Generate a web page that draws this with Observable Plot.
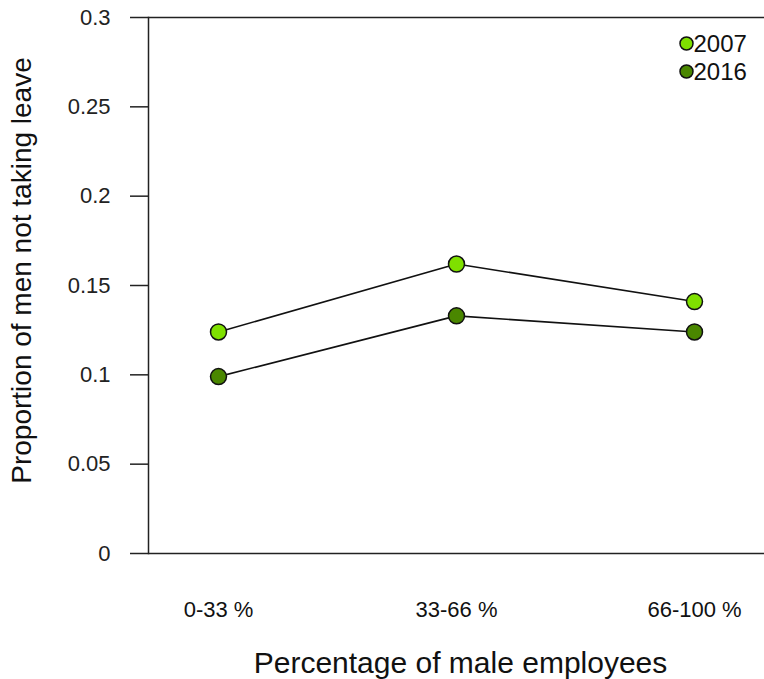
<!DOCTYPE html>
<html>
<head>
<meta charset="utf-8">
<script src="https://cdn.jsdelivr.net/npm/d3@7"></script>
<script src="https://cdn.jsdelivr.net/npm/@observablehq/plot@0.6"></script>
<style>
  html, body { margin: 0; padding: 0; background: #fff; }
  #chart svg { display: block; font-family: "Liberation Sans", Arial, sans-serif; }
</style>
</head>
<body>
<div id="chart"></div>
<script>
const categories = ["0-33 %", "33-66 %", "66-100 %"];
const years = ["2007", "2016"];
const values2007 = [0.124, 0.162, 0.141];
const values2016 = [0.099, 0.133, 0.124];
const yTicks = [0, 0.05, 0.1, 0.15, 0.2, 0.25, 0.3];
const colors = {"2007": "#7FE000", "2016": "#4A8700"};

const data = [
  ...categories.map((c, i) => ({cat: c, year: "2007", value: values2007[i]})),
  ...categories.map((c, i) => ({cat: c, year: "2016", value: values2016[i]}))
];

const legendMarks = years.flatMap((yr, i) => [
  Plot.dot([yr], {frameAnchor: "top-right", dx: -78, dy: 26 + 28 * i, r: 6.5, fill: colors[yr], stroke: "#111", strokeWidth: 1.5}),
  Plot.text([yr], {frameAnchor: "top-right", textAnchor: "start", lineAnchor: "middle", dx: -71, dy: 27 + 28 * i, fontSize: 24, fill: "#111"})
]);

const chart = Plot.plot({
  width: 764,
  height: 679,
  marginTop: 17,
  marginBottom: 126,
  marginLeft: 148,
  marginRight: 0,
  style: {fontFamily: "Liberation Sans, Arial, sans-serif", fontSize: "22px", color: "#222", background: "#fff"},
  x: {type: "point", domain: categories, padding: 0.29, label: null, axis: null},
  y: {domain: [0, 0.3], ticks: yTicks, label: null},
  marks: [
    Plot.frame({anchor: "left", stroke: "#222", strokeWidth: 1.5}),
    Plot.ruleY([0, 0.3], {stroke: "#222", strokeWidth: 1.5}),
    Plot.axisY({ticks: yTicks, tickSize: 18, tickPadding: 20, tickFormat: d => String(d), label: null, strokeWidth: 1.5}),
    Plot.text(categories, {x: d => d, frameAnchor: "bottom", dy: 63, fontSize: 22, fill: "#111"}),
    Plot.line(data, {x: "cat", y: "value", z: "year", stroke: "#111", strokeWidth: 1.6}),
    Plot.dot(data, {x: "cat", y: "value", r: 8, fill: d => colors[d.year], stroke: "#111", strokeWidth: 1.5}),
    Plot.text(["Proportion of men not taking leave"], {frameAnchor: "left", textAnchor: "middle", dx: -126, dy: -15, rotate: -90, fontSize: 28, fill: "#111"}),
    Plot.text(["Percentage of male employees"], {frameAnchor: "bottom", dy: 119, dx: 4, fontSize: 30, fill: "#111"}),
    ...legendMarks
  ]
});

document.getElementById("chart").appendChild(chart);
</script>
</body>
</html>
